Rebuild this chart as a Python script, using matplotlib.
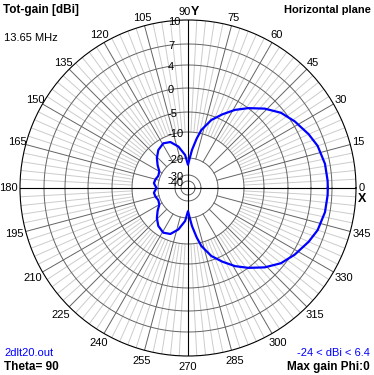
import numpy as np
import matplotlib
matplotlib.use('Agg')
import matplotlib.pyplot as plt

plt.rcParams['font.family'] = ['Liberation Sans', 'DejaVu Sans']
plt.rcParams['font.size'] = 8

# horizontal pattern, azimuth (deg) and total gain (dBi)
phi_deg = [0, 3, 10, 18, 24, 32, 39, 46, 53, 59, 65, 71, 77, 80, 84, 87, 90,
           95, 103, 111, 119, 128, 136, 143, 150, 158, 165, 172, 180,
           188, 195, 202, 210, 217, 224, 232, 241, 249, 257, 265,
           270, 273, 276, 280, 283, 289, 295, 301, 307, 314, 321, 328, 336, 342, 350, 357, 360]
gain_dbi = [6.4, 6.4, 6.3, 5.9, 5.3, 4.4, 3.4, 1.8, 0.0, -1.85, -3.9, -6.0, -9.1, -12.2, -16.8, -20.5, -24.0,
            -18.8, -15.2, -12.6, -11.9, -13.0, -14.9, -16.9, -18.8, -19.2, -18.6, -18.3, -19.4,
            -18.3, -18.6, -19.2, -18.8, -16.9, -14.9, -13.0, -11.9, -12.6, -15.2, -18.8,
            -24.0, -20.5, -16.8, -12.2, -9.1, -6.0, -3.9, -1.85, 0.0, 1.8, 3.4, 4.4, 5.3, 5.9, 6.3, 6.4, 6.4]

# gain rings and where they sit (pixels from centre) on the log-like scale
ring_db = [-40, -30, -20, -10, -5, 0, 4, 7, 10]
ring_px = [7, 13, 30, 56, 76, 100, 123, 144, 168]
angle_ticks = list(range(0, 360, 15))
angle_labels = [str(a) for a in angle_ticks]

scale_db = [-50] + ring_db
scale_px = [0] + ring_px


def fwd(v):
    return np.interp(v, scale_db, scale_px)


def inv(r):
    return np.interp(r, scale_px, scale_db)


fig = plt.figure(figsize=(3.74, 3.75), dpi=100)
ax = fig.add_axes([20 / 374, 19 / 375, 336 / 374, 336 / 375], projection='polar')
ax.set_rscale('function', functions=(fwd, inv))
ax.set_ylim(-50, 10)
ax.set_xticks([])
ax.set_yticks([])
ax.grid(False)
ax.spines['polar'].set_linewidth(0.8)
ax.spines['polar'].set_color('black')

th = np.linspace(0, 2 * np.pi, 361)
# light radial lines every 3 deg
for a in range(0, 360, 3):
    if a % 15:
        ax.plot([np.radians(a)] * 2, [-10, 10], color='#cccccc', lw=0.7, zorder=1)
# darker radial lines every 15 deg
for a in angle_ticks:
    if a % 90:
        ax.plot([np.radians(a)] * 2, [-20, 10], color='#646464', lw=0.7, zorder=2)
# gain circles
for v in ring_db[:-1]:
    ax.plot(th, np.full_like(th, v), color='#646464', lw=0.7, zorder=2)
# main axes
for a in (0, 90, 180, 270):
    ax.plot([np.radians(a)] * 2, [-50, 10], color='black', lw=0.8, zorder=3)

ax.plot(np.radians(phi_deg), gain_dbi, color='#0000ff', lw=1.6, zorder=5,
        solid_joinstyle='round')

# gain labels along the 90 deg axis
for v in ring_db:
    ax.annotate(str(v), xy=(np.pi / 2, v), xytext=(-20, -2), textcoords='offset pixels',
                ha='left', va='center', zorder=6, annotation_clip=False)

# azimuth labels
for a, lab in zip(angle_ticks, angle_labels):
    if a == 90:
        continue
    t = np.radians(a)
    s = np.sin(t)
    if a == 0:
        rl = 174
    elif a == 180:
        rl = 179.5
    elif s > 0:
        rl = 176.5
    else:
        rl = 179.5
    d = rl - 168
    ax.annotate(lab, xy=(t, 10), xytext=(d * np.cos(t), d * s), textcoords='offset pixels',
                ha='center', va='center', annotation_clip=False)

W, H = 374, 375
fig.text(191 / W, 1 - 12 / H, '90', ha='right', va='center')
fig.text(191 / W, 1 - 12 / H, 'Y', ha='left', va='center', fontweight='bold', fontsize=9)
fig.text(362.5 / W, 1 - 199 / H, 'X', ha='center', va='center', fontweight='bold', fontsize=9)

fig.text(3 / W, 1 - 10 / H, 'Tot-gain [dBi]', ha='left', va='center', fontweight='bold', fontsize=8.5)
fig.text(371 / W, 1 - 10 / H, 'Horizontal plane', ha='right', va='center', fontweight='bold')
fig.text(4 / W, 1 - 38 / H, '13.65 MHz', ha='left', va='center')
fig.text(4 / W, 1 - 353 / H, '2dlt20.out', ha='left', va='center', color='#0000ff')
fig.text(4 / W, 1 - 367 / H, 'Theta= 90', ha='left', va='center', fontweight='bold', fontsize=8.5)
fig.text(370 / W, 1 - 353 / H, '-24 < dBi < 6.4', ha='right', va='center', color='#0000ff')
fig.text(370 / W, 1 - 367 / H, 'Max gain Phi:0', ha='right', va='center', fontweight='bold', fontsize=8.5)

fig.savefig('out.png', dpi=100)
